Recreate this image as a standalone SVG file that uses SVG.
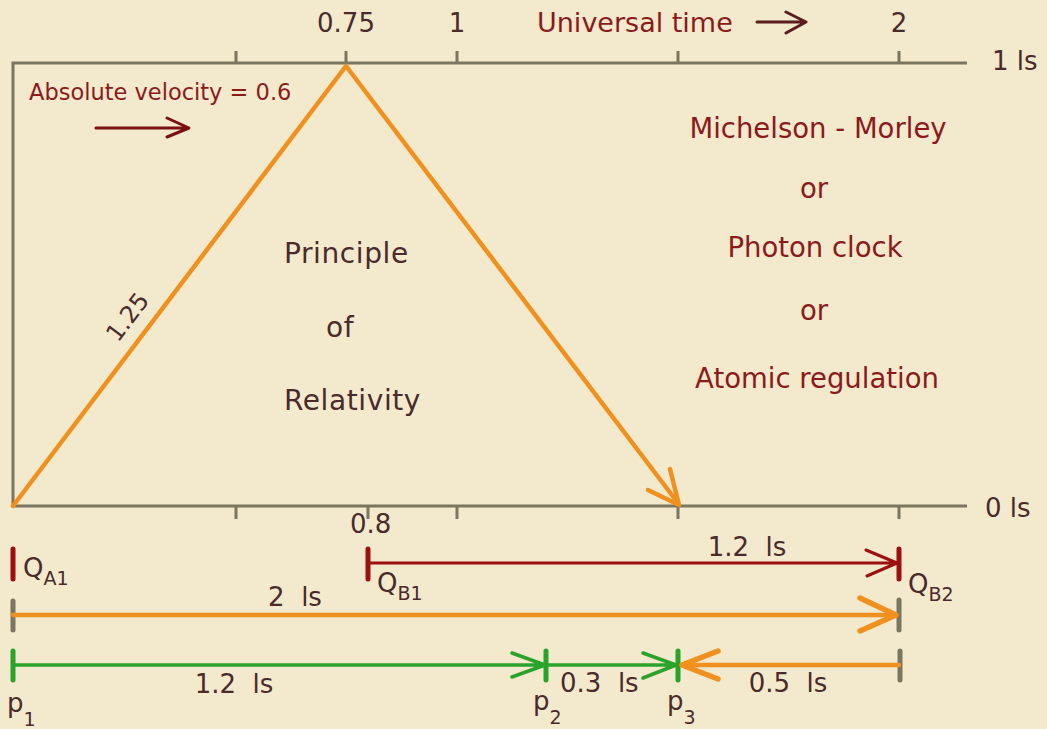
<svg xmlns="http://www.w3.org/2000/svg" width="1047" height="729" viewBox="0 0 1047 729">
<style>
text{font-family:"DejaVu Sans","Verdana",sans-serif}
.num{fill:#4a2a2a;font-size:26px}
.dark{fill:#4a2a2a}
.mar{fill:#8b1a1a}
.ax{stroke:#7b7660;stroke-width:3;fill:none}
.tk{stroke:#7b7660;stroke-width:3;fill:none}
.or{stroke:#f0901e;stroke-width:4.5;fill:none;stroke-linecap:round;stroke-linejoin:round}
.orb{stroke:#f0901e;stroke-width:5.5;fill:none;stroke-linecap:round;stroke-linejoin:round}
.rd{stroke:#9c1010;stroke-width:3;fill:none;stroke-linecap:round;stroke-linejoin:round}
.rdt{stroke:#9c1010;stroke-width:5;fill:none;stroke-linecap:round}
.gr{stroke:#2aa32a;stroke-width:3.5;fill:none;stroke-linecap:round;stroke-linejoin:round}
.grt{stroke:#2aa32a;stroke-width:5;fill:none;stroke-linecap:round}
.gt{stroke:#7b7660;stroke-width:5;fill:none;stroke-linecap:round}
</style>
<rect width="1047" height="729" fill="#f3e9cd"/>
<g id="axes">
<path class="ax" d="M13 506 V63 H967 M13 506 H967"/>
<path class="tk" d="M236 51 V63 M346 51 V63 M457 51 V63 M678 51 V63 M899 51 V63"/>
<path class="tk" d="M236 506 V519 M368 506 V519 M457 506 V519 M678 506 V519 M899 506 V519"/>
</g>
<g id="axis-labels">
<text class="num" x="346" y="32" text-anchor="middle">0.75</text>
<text class="num" x="457" y="32" text-anchor="middle">1</text>
<text class="num" x="899" y="32" text-anchor="middle">2</text>
<text class="num" x="992" y="70">1 ls</text>
<text class="num" x="985" y="517">0 ls</text>
<text class="num" x="350" y="533">0.8</text>
<text class="mar" x="537" y="32" font-size="27">Universal time</text>
</g>
<g id="velocity">
<text class="mar" x="29" y="100" font-size="22.5">Absolute velocity = 0.6</text>
</g>
<g id="relativity">
<text class="dark" x="284" y="263" font-size="28" letter-spacing="0.6">Principle</text>
<text class="dark" x="326" y="337" font-size="28" letter-spacing="0.6">of</text>
<text class="dark" x="284" y="410" font-size="28" letter-spacing="0.6">Relativity</text>
<text class="dark" font-size="24" text-anchor="middle" transform="translate(134 322) rotate(-53)">1.25</text>
</g>
<g id="methods" class="mar" font-size="27.5" text-anchor="middle">
<text x="818" y="138">Michelson - Morley</text>
<text x="814" y="198">or</text>
<text x="815" y="257">Photon clock</text>
<text x="814" y="320">or</text>
<text x="817" y="388">Atomic regulation</text>
</g>
<g id="points" class="dark">
<text x="23" y="577" font-size="26">Q<tspan font-size="19" dy="8">A1</tspan></text>
<text x="377" y="592" font-size="26">Q<tspan font-size="19" dy="8">B1</tspan></text>
<text x="908" y="593" font-size="26">Q<tspan font-size="19" dy="8">B2</tspan></text>
<text x="7" y="712" font-size="26">p<tspan font-size="19" dy="14">1</tspan></text>
<text x="533" y="710" font-size="26">p<tspan font-size="19" dy="14">2</tspan></text>
<text x="667" y="710" font-size="26">p<tspan font-size="19" dy="14">3</tspan></text>
</g>
<g id="distances" class="num" font-size="24">
<text x="747" y="556" text-anchor="middle">1.2&#160; ls</text>
<text x="295" y="606" text-anchor="middle">2&#160; ls</text>
<text x="234" y="693" text-anchor="middle">1.2&#160; ls</text>
<text x="560" y="692">0.3&#160; ls</text>
<text x="788" y="692" text-anchor="middle">0.5&#160; ls</text>
</g>
<g id="connectors">
<path d="M757 22 H804 M786 12 L806 22 L786 33" stroke="#5a1c1c" stroke-width="3" fill="none" stroke-linecap="round" stroke-linejoin="round"/>
<path d="M96 128 H187 M167 118 L189 128 L167 137" stroke="#7a1010" stroke-width="3" fill="none" stroke-linecap="round" stroke-linejoin="round"/>
<path class="or" d="M13 506 L346 66 L678 503"/>
<path class="or" d="M648 490 L679 505 L670 469"/>
<path class="rdt" d="M13 549 V579 M368 549 V579 M899 549 V579"/>
<path class="rd" d="M368 563 H897 M866 550 L897 563 L867 576"/>
<path class="gt" d="M13 601 V630 M899 600 V630 M900 651 V680"/>
<path class="or" d="M13 615 H895"/>
<path class="orb" d="M860 598 L896 615 L860 631"/>
<path class="grt" d="M13 651 V680 M546 651 V680 M678 651 V680"/>
<path class="gr" d="M13 665 H544 M512 653 L545 665 L512 677"/>
<path class="gr" d="M546 665 H676 M643 653 L676 665 L643 678"/>
<path class="or" d="M899 665 H683"/>
<path class="orb" d="M718 651 L682 665 L718 679"/>
</g>
</svg>
